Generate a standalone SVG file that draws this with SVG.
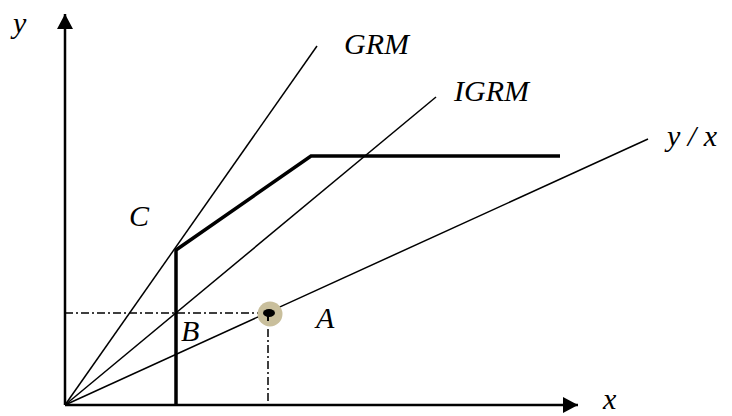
<svg xmlns="http://www.w3.org/2000/svg" width="732" height="416" viewBox="0 0 732 416">
<style>
.t{font-family:"Liberation Serif","Times New Roman",serif;font-style:italic;font-size:30px;fill:#000}
.thin{stroke:#000;stroke-width:1.5;fill:none}
.axis{stroke:#000;stroke-width:2.5;fill:none}
.thick{stroke:#000;stroke-width:3.5;fill:none;stroke-linejoin:miter}
.dd{stroke:#000;stroke-width:1.5;fill:none;stroke-dasharray:8 3 2 3}
</style>
<defs>
<marker id="ah" markerWidth="16" markerHeight="16" refX="15" refY="8" orient="auto" markerUnits="userSpaceOnUse">
<path d="M0,0 L15,8 L0,16 Z" fill="#000"/>
</marker>
</defs>
<rect width="732" height="416" fill="#fff"/>
<g id="connectors">
<line class="axis" x1="65" y1="405" x2="65" y2="14" marker-end="url(#ah)"/>
<line class="axis" x1="65" y1="405" x2="578" y2="405" marker-end="url(#ah)"/>
<line class="thin" x1="65" y1="405" x2="317" y2="46"/>
<line class="thin" x1="65" y1="405" x2="436" y2="97"/>
<line class="thin" x1="65" y1="405" x2="648" y2="139"/>
<polyline class="thick" points="176,405 176,250 311,156 560,156"/>
<line class="dd" x1="65" y1="313" x2="268" y2="313"/>
<line class="dd" x1="268" y1="313" x2="268" y2="405"/>
</g>
<g id="pointA">
<circle cx="270" cy="314" r="12.5" fill="#c9bf9c"/>
<ellipse cx="269" cy="313" rx="6" ry="4" fill="#000"/>
<line x1="268" y1="314" x2="268" y2="321" stroke="#000" stroke-width="2"/>
</g>
<g id="labels">
<text class="t" x="13" y="33">y</text>
<text class="t" x="603" y="409">x</text>
<text class="t" x="344" y="54">GRM</text>
<text class="t" x="454" y="101">IGRM</text>
<text class="t" x="667" y="146">y / x</text>
<text class="t" x="129" y="226">C</text>
<text class="t" x="181" y="341">B</text>
<text class="t" x="316" y="328">A</text>
</g>
</svg>
